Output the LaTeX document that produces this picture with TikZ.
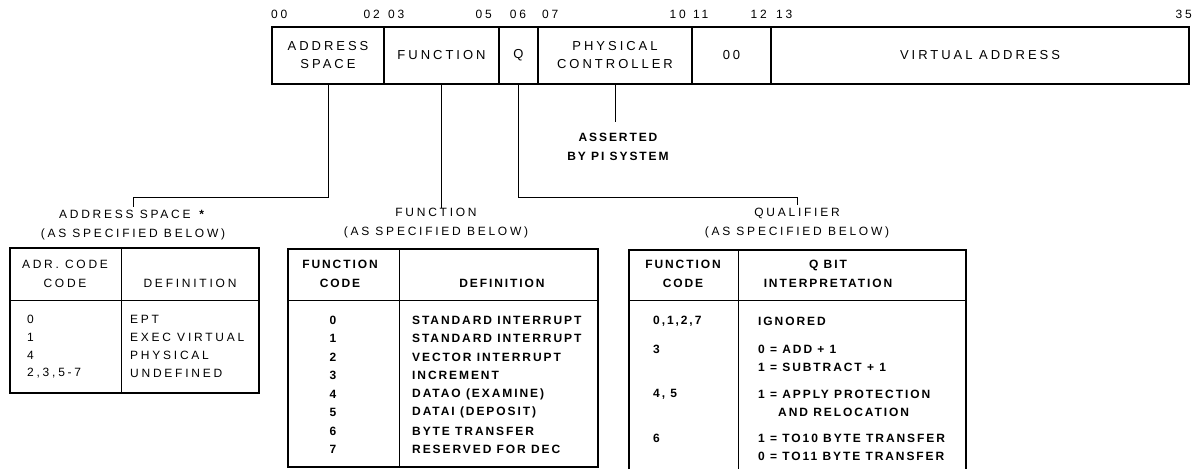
\documentclass[tikz,border=0pt]{standalone}
\usepackage{fontspec}
\setmainfont{Liberation Sans}[LetterSpace=23]
\newfontfamily\boldsans{Liberation Sans}[LetterSpace=16]
\usepackage{tikz}
\usetikzlibrary{positioning,calc}

\begin{document}
\begin{tikzpicture}[x=1pt, y=-1pt,
  field/.style={draw, line width=1.6pt, minimum height=57pt, inner sep=0pt, outer sep=0pt,
    anchor=west, align=center, font=\fontsize{13}{18}\selectfont},
  bitno/.style={inner sep=0pt, font=\fontsize{12}{12}\selectfont},
  title/.style={inner sep=0pt, align=center, font=\fontsize{12}{19}\selectfont},
  link/.style={line width=0.8pt},
  frame/.style={line width=1.4pt},
  rule/.style={line width=1pt},
  txt/.style={inner sep=0pt, anchor=west, font=\fontsize{12}{18}\selectfont},
  btxt/.style={inner sep=0pt, anchor=west, font=\boldsans\bfseries\fontsize{12}{18}\selectfont},
  bhead/.style={inner sep=0pt, align=center, font=\boldsans\bfseries\fontsize{12}{19}\selectfont}]
  \useasboundingbox (0,0) rectangle (1193,469);

  % Register word
  \node[field, minimum width=112pt] (as) at (272,55.5) {ADDRESS\\SPACE};
  \node[field, minimum width=115pt] (fn) at (as.east) {FUNCTION};
  \node[field, minimum width=39pt]  (q)  at (fn.east) {Q};
  \node[field, minimum width=154pt] (pc) at (q.east) {PHYSICAL\\CONTROLLER};
  \node[field, minimum width=79pt]  (zz) at (pc.east) {00};
  \node[field, minimum width=418pt] (va) at (zz.east) {VIRTUAL ADDRESS};

  % Bit numbers
  \node[bitno, anchor=west] (b00) at (271,14) {00};
  \node[bitno, anchor=east] (b02) at (380,14) {02};
  \node[bitno, anchor=west] (b03) at (388,14) {03};
  \node[bitno, anchor=east] (b05) at (492,14) {05};
  \node[bitno] (b06) at (518,14) {06};
  \node[bitno, anchor=west] (b07) at (542,14) {07};
  \node[bitno, anchor=east] (b10) at (686,14) {10};
  \node[bitno, anchor=west] (b11) at (693,14) {11};
  \node[bitno, anchor=east] (b12) at (767,14) {12};
  \node[bitno, anchor=west] (b13) at (776,14) {13};
  \node[bitno, anchor=east] (b35) at (1192,14) {35};

  % Titles
  \node[title] (astitle) at (133,225) {ADDRESS SPACE \textbf{*}\\(AS SPECIFIED BELOW)};
  \node[title] (fntitle) at (436,223) {FUNCTION\\(AS SPECIFIED BELOW)};
  \node[title] (qtitle) at (797,223) {QUALIFIER\\(AS SPECIFIED BELOW)};
  \node[title, font=\boldsans\bfseries\fontsize{12}{19}\selectfont] (asserted) at (618,147) {ASSERTED\\BY PI SYSTEM};

  % Connectors
  \draw[link] (as.south) -- (as.south |- 0,197) -| ([yshift=3pt]astitle.north);
  \draw[link] (fn.south) -- (fn.south |- fntitle.north);
  \draw[link] (q.south) -- (q.south |- 0,197) -| ([yshift=3pt]qtitle.north);
  \draw[link] (pc.south) -- ([yshift=11pt]asserted.north -| pc.south);

  % Address space table
  \draw[frame] (10,248) rectangle (259,393);
  \draw[rule] (10,300) -- (259,300);
  \draw[rule] (121,248) -- (121,393);
  \node[title] (ashd) at (65,274) {ADR. CODE\\CODE};
  \node[txt, anchor=center] (asdef) at (190,283) {DEFINITION};
  \foreach \y/\c/\d in {319/0/EPT, 337/1/EXEC VIRTUAL, 355/4/PHYSICAL, 373/{2,3,5-7}/UNDEFINED}
    \node[txt] at (27,\y) {\c} node[txt] at (130,\y) {\d};

  % Function table
  \draw[frame] (288,249) rectangle (598,467);
  \draw[rule] (288,300) -- (598,300);
  \draw[rule] (399,249) -- (399,467);
  \node[bhead] (fnhd) at (340,274) {FUNCTION\\CODE};
  \node[bhead] (fndef) at (502,283) {DEFINITION};
  \foreach \d [count=\i from 0] in {STANDARD INTERRUPT, STANDARD INTERRUPT, VECTOR INTERRUPT,
      INCREMENT, DATAO (EXAMINE), DATAI (DEPOSIT), BYTE TRANSFER, RESERVED FOR DEC}
    \node[btxt, anchor=center] at (333,320+18.5*\i) {\i} node[btxt] at (412,320+18.5*\i) {\d};

  % Qualifier table (runs off the page)
  \draw[frame] (629,469) -- (629,250) -- (966,250) -- (966,469);
  \draw[rule] (629,300) -- (966,300);
  \draw[rule] (738,250) -- (738,469);
  \node[bhead] (qhd) at (683,274) {FUNCTION\\CODE};
  \node[bhead] (qdef) at (828,274) {Q BIT\\INTERPRETATION};
  \node[btxt] at (653,321) {0,1,2,7};
  \node[btxt] at (758,321) {IGNORED};
  \node[btxt] at (653,349) {3};
  \node[btxt] at (758,349) {0 = ADD + 1};
  \node[btxt] at (758,367) {1 = SUBTRACT + 1};
  \node[btxt] at (653,394) {4, 5};
  \node[btxt] at (758,394) {1 = APPLY PROTECTION};
  \node[btxt] at (778,412) {AND RELOCATION};
  \node[btxt] at (653,438) {6};
  \node[btxt] at (758,438) {1 = TO10 BYTE TRANSFER};
  \node[btxt] at (758,456) {0 = TO11 BYTE TRANSFER};
\end{tikzpicture}
\end{document}
